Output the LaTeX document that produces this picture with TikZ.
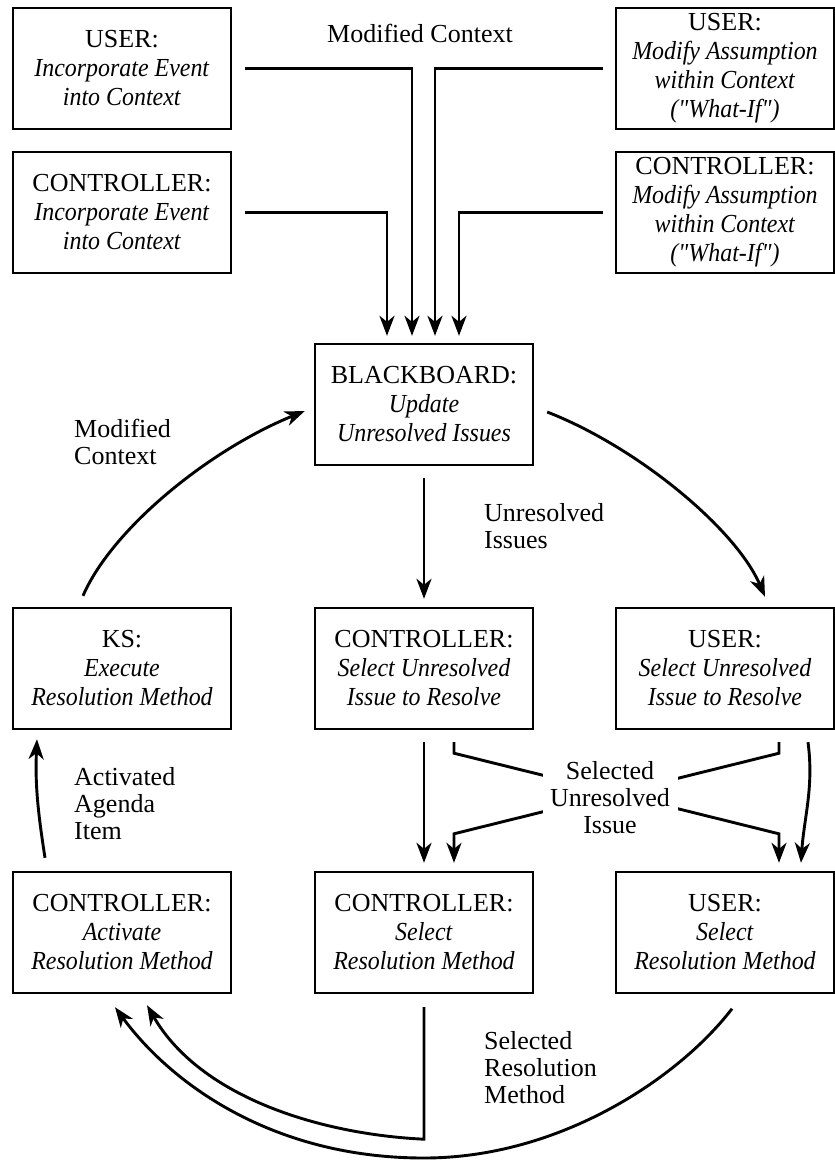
\documentclass[tikz,border=0pt]{standalone}
\usepackage{fontspec}
\setmainfont{Liberation Serif}[Ligatures=TeXOff, ItalicFeatures={FakeStretch=0.92}]
\usetikzlibrary{arrows.meta,calc}
\begin{document}
\begin{tikzpicture}[x=1pt,y=-1pt,
  box/.style={draw, line width=2.4pt, minimum width=218pt, minimum height=121pt, inner sep=0pt, align=center, font=\fontsize{26}{29}\selectfont},
  lbl/.style={align=left, anchor=west, inner sep=0pt, font=\fontsize{26}{27}\selectfont},
  arr/.style={line width=2.9pt, -{Stealth[length=20pt,width=15pt,inset=6pt]}},
  ln/.style={line width=2.9pt}]
\useasboundingbox (0,0) rectangle (835,1160);
% boxes
\node[box] (u1) at (122,68.5) {USER:\\\textit{Incorporate Event}\\\textit{into Context}};
\node[box] (c1) at (122,212.5) {CONTROLLER:\\\textit{Incorporate Event}\\\textit{into Context}};
\node[box] (u2) at (725,68.5) {USER:\\\textit{Modify Assumption}\\\textit{within Context}\\\textit{("What-If")}};
\node[box] (c2) at (725,212.5) {CONTROLLER:\\\textit{Modify Assumption}\\\textit{within Context}\\\textit{("What-If")}};
\node[box] (bb) at (424,404.5) {BLACKBOARD:\\\textit{Update}\\\textit{Unresolved Issues}};
\node[box] (ks) at (122,668.5) {KS:\\\textit{Execute}\\\textit{Resolution Method}};
\node[box] (cs) at (424,668.5) {CONTROLLER:\\\textit{Select Unresolved}\\\textit{Issue to Resolve}};
\node[box] (us) at (725,668.5) {USER:\\\textit{Select Unresolved}\\\textit{Issue to Resolve}};
\node[box] (ca) at (122,932.5) {CONTROLLER:\\\textit{Activate}\\\textit{Resolution Method}};
\node[box] (cr) at (424,932.5) {CONTROLLER:\\\textit{Select}\\\textit{Resolution Method}};
\node[box] (ur) at (725,932.5) {USER:\\\textit{Select}\\\textit{Resolution Method}};
% top inputs
\draw[arr] ($(u1.east)+(13,0)$) -| ($(bb.north)+(-12,-7)$);
\draw[arr] ($(c1.east)+(13,0)$) -| ($(bb.north)+(-37,-7)$);
\draw[arr] ($(u2.west)+(-12,0)$) -| ($(bb.north)+(11,-7)$);
\draw[arr] ($(c2.west)+(-12,0)$) -| ($(bb.north)+(35,-7)$);
\node[font=\fontsize{26}{27}\selectfont, inner sep=0pt] (mc1) at (420,33) {Modified Context};
% cycle
\draw[arr] ($(ks.north)+(-39,-11)$) .. controls +(29,-67) and +(-96,39) .. ($(bb.west)+(-9,6.5)$);
\draw[arr] ($(bb.east)+(13,7.5)$) .. controls +(90,35) and +(-29,-68) .. ($(us.north)+(40,-10)$);
\draw[arr] ($(bb.south)+(0,12)$) -- ($(cs.north)+(0,-8)$);
\node[lbl] (mc2) at (74,442) {Modified\\Context};
\node[lbl] (ui) at (484,526) {Unresolved\\Issues};
% activated
\draw[arr] ($(ca.north)+(-77,-13)$) .. controls +(-7,-45) and +(-2,45) .. ($(ks.south)+(-85,9)$);
\node[lbl] (aai) at (74,804) {Activated\\Agenda\\Item};
% selection
\draw[arr] ($(cs.south)+(0,12)$) -- ($(cr.north)+(0,-8)$);
\draw[arr] ($(cs.south)+(30,12)$) -- ++(0,11) -- ($(ur.north)+(54,-37)$) -- ($(ur.north)+(54,-8)$);
\draw[arr] ($(us.south)+(54,12)$) -- ++(0,11) -- ($(cr.north)+(30,-37)$) -- ($(cr.north)+(30,-8)$);
\draw[arr] ($(us.south)+(83,12)$) .. controls +(6,45) and +(3,-45) .. ($(ur.north)+(76,-8)$);
\node[fill=white, align=center, minimum width=135pt, inner ysep=3pt, font=\fontsize{26}{27}\selectfont] (sui) at (610,798) {Selected\\Unresolved\\Issue};
% bottom
\coordinate (bot) at (424,1158);
\draw[arr] ($(cr.south)+(0,13)$) -- ($(cr.south)+(0,145)$) .. controls +(-104,-5) and +(53,92) .. ($(ca.south)+(25,11)$);
\draw[arr] ($(ur.south)+(7,14.5)$) .. controls +(-52,68) and +(137,0) .. (bot) .. controls +(-153,0) and +(55,75) .. ($(ca.south)+(-7,13)$);
\node[lbl] (srm) at (484,1068) {Selected\\Resolution\\Method};
\end{tikzpicture}
\end{document}
